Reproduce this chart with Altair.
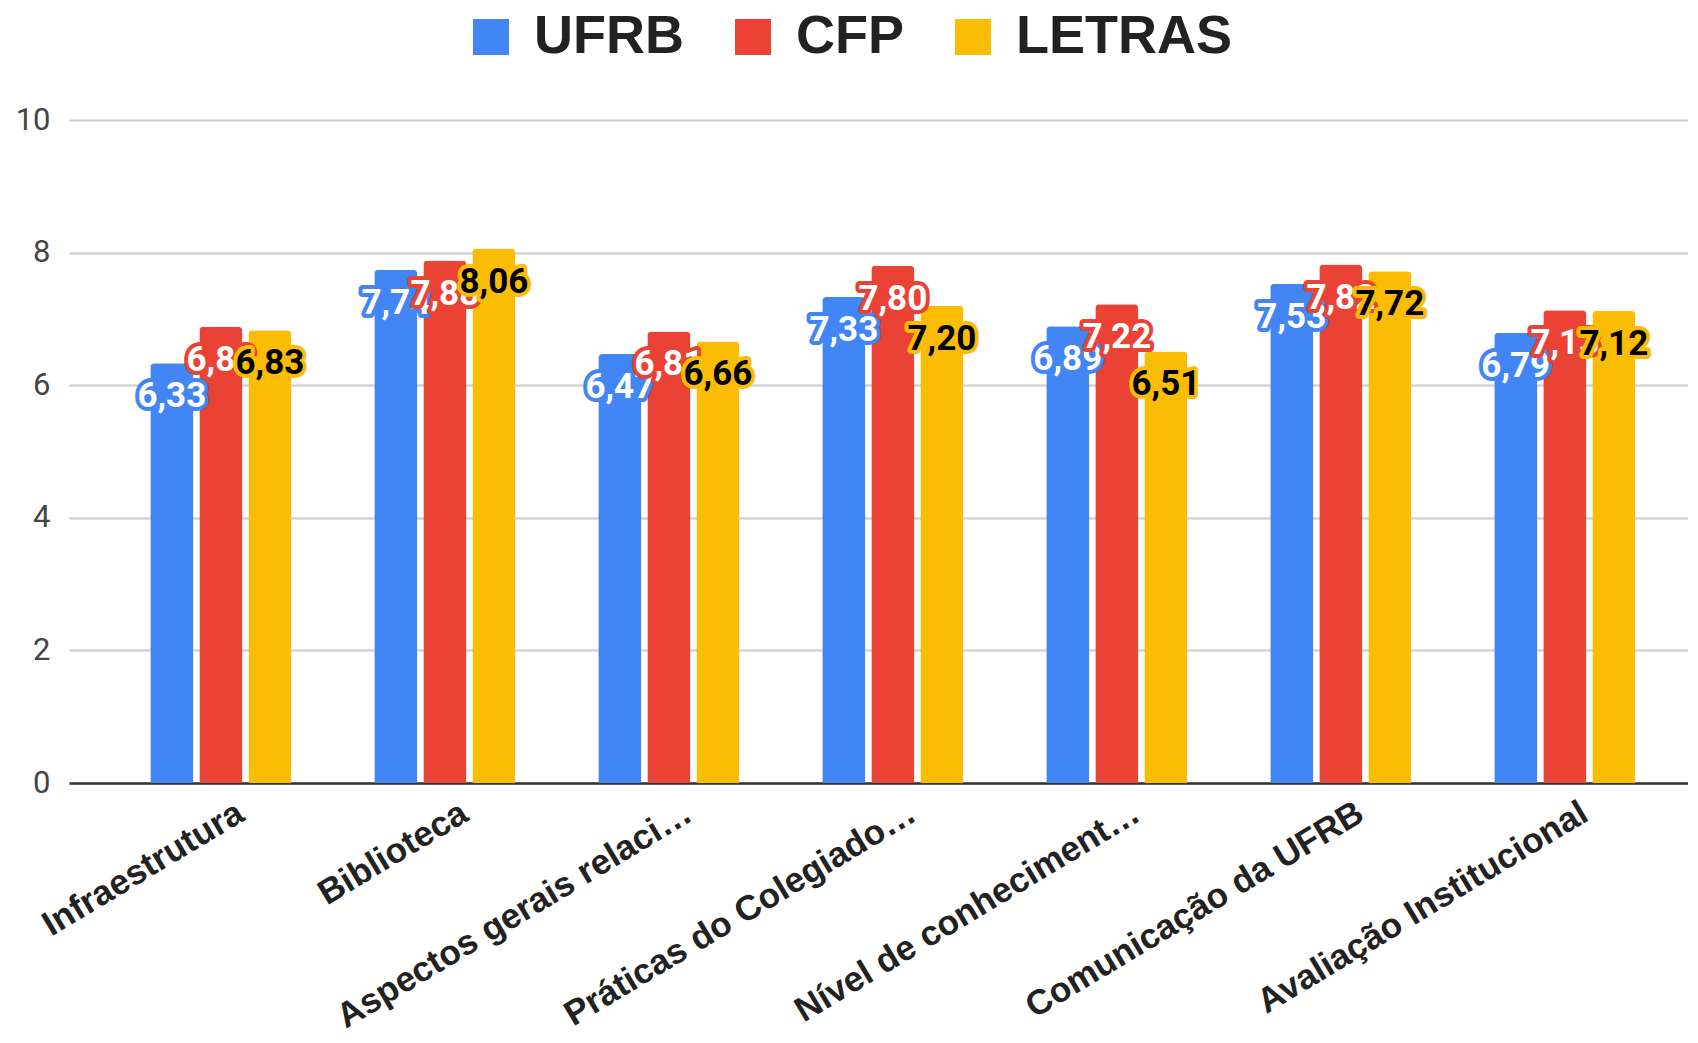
import altair as alt
import pandas as pd

categories = ["Infraestrutura", "Biblioteca", "Aspectos gerais relaci…", "Práticas do Colegiado…",
              "Nível de conheciment…", "Comunicação da UFRB", "Avaliação Institucional"]
series = ["UFRB", "CFP", "LETRAS"]
ufrb = [6.33, 7.74, 6.47, 7.33, 6.89, 7.53, 6.79]
cfp = [6.88, 7.88, 6.81, 7.80, 7.22, 7.82, 7.13]
letras = [6.83, 8.06, 6.66, 7.20, 6.51, 7.72, 7.12]
colors = ["#4285F4", "#EA4335", "#FBBC04"]
text_fill = ["#FFFFFF", "#FFFFFF", "#000000"]

rows = []
for s, vals in zip(series, [ufrb, cfp, letras]):
    for c, v in zip(categories, vals):
        rows.append({"cat": c, "serie": s, "valor": v, "rot": f"{v:.2f}".replace(".", ",")})
df = pd.DataFrame(rows)

FONT = "Roboto"
AFONT = "Liberation Sans"

x = alt.X("cat:N", sort=categories, title=None,
          scale=alt.Scale(paddingInner=0.37, paddingOuter=0.299, align=0.607),
          axis=alt.Axis(labelAngle=-31, labelFontSize=35, labelFontWeight="bold", labelFont=AFONT,
                        labelColor="#222222", ticks=False, domainColor="#333333", domainWidth=2.5,
                        labelPadding=12, labelOffset=11, labelLimit=600))
xo = alt.XOffset("serie:N", sort=series, scale=alt.Scale(domain=series, paddingInner=0.122, paddingOuter=0))
y = alt.Y("valor:Q", title=None, scale=alt.Scale(domain=[0, 10], nice=False),
          axis=alt.Axis(values=[0, 2, 4, 6, 8, 10], format="d", labelFontSize=31, labelFont=FONT,
                        labelColor="#444444", ticks=False, domain=False, gridColor="#cccccc",
                        gridWidth=2, labelPadding=19))

bars = alt.Chart(df).mark_bar(cornerRadiusTopLeft=4, cornerRadiusTopRight=4).encode(
    x=x, xOffset=xo, y=y,
    color=alt.Color("serie:N", sort=series, scale=alt.Scale(domain=series, range=colors),
                    legend=alt.Legend(title=None, orient="none", legendX=395, legendY=-110,
                                      direction="horizontal", symbolType="square", symbolSize=1296,
                                      symbolStrokeWidth=0, labelFontSize=54, labelFont=AFONT,
                                      labelFontWeight="bold", labelColor="#222222", labelLimit=600,
                                      columnPadding=42, labelOffset=16, padding=0))
)

layers = [bars]
for s, col, tf in zip(series, colors, text_fill):
    base = alt.Chart(df).transform_filter(alt.datum.serie == s).encode(
        x=alt.X("cat:N", sort=categories), xOffset=alt.XOffset("serie:N", sort=series),
        y=alt.Y("valor:Q"), text="rot:N")
    halo = base.mark_text(font=FONT, fontSize=35, fontWeight="bold", dy=33, baseline="middle",
                          fill=col, stroke=col, strokeWidth=8, strokeJoin="round")
    txt = base.mark_text(font=FONT, fontSize=35, fontWeight="bold", dy=33, baseline="middle",
                         fill=tf)
    layers += [halo, txt]

chart = alt.layer(*layers).properties(
    width=1619, height=663,
    padding={"left": 7, "top": 2, "right": 0, "bottom": 0}
).configure_view(stroke=None)

chart.save("out.html", embed_options={"renderer": "svg", "actions": False})
